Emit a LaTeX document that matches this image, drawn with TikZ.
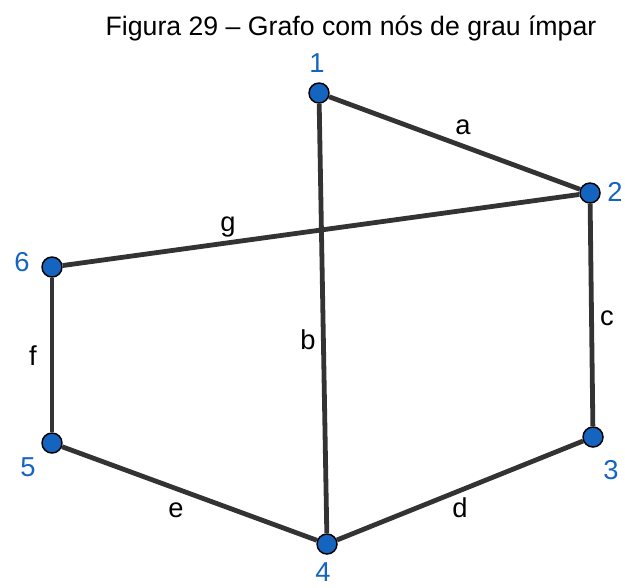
\documentclass[tikz,border=0pt]{standalone}
\usepackage{fontspec}
\setmainfont{Liberation Sans}
\usepackage{tikz}
\definecolor{nodeblue}{RGB}{21,101,192}
\definecolor{edgegray}{RGB}{51,51,51}
\tikzset{
  vertex/.style={circle, fill=nodeblue, draw=black, line width=1.1pt, minimum size=15pt, inner sep=0pt},
  edge/.style={edgegray, line width=3.6pt},
  vlabel/.style={text=nodeblue, font=\fontsize{20.5}{24}\selectfont, inner sep=0pt},
  elabel/.style={font=\fontsize{20.5}{24}\selectfont, inner sep=0pt}
}

\begin{document}
\begin{tikzpicture}[x=0.75pt, y=-0.75pt]
		\useasboundingbox (0,0) rectangle (625,587);
		\node[font=\fontsize{20}{24}\selectfont, anchor=base] (title) at (351,35) {Figura 29 – Grafo com nós de grau ímpar};
		\node[vertex] (v1) at (319,93) {};
		\node[vertex] (v2) at (590,193) {};
		\node[vertex] (v3) at (593,437) {};
		\node[vertex] (v4) at (327,544) {};
		\node[vertex] (v5) at (52,443) {};
		\node[vertex] (v6) at (52,267) {};
		\draw[edge] (v1) -- (v2);
		\draw[edge] (v1) -- (v4);
		\draw[edge] (v2) -- (v3);
		\draw[edge] (v3) -- (v4);
		\draw[edge] (v4) -- (v5);
		\draw[edge] (v5) -- (v6);
		\draw[edge] (v6) -- (v2);
		\node[vlabel] (l1) at (317,63) {1};
		\node[vlabel] (l2) at (615,192) {2};
		\node[vlabel] (l3) at (611,470) {3};
		\node[vlabel] (l4) at (323,572) {4};
		\node[vlabel] (l5) at (28,467) {5};
		\node[vlabel] (l6) at (22,262) {6};
		\node[elabel] (la) at (463,127) {a};
		\node[elabel] (lb) at (308,340) {b};
		\node[elabel] (lc) at (607,318) {c};
		\node[elabel] (ld) at (460,508) {d};
		\node[elabel] (le) at (176,510) {e};
		\node[elabel] (lf) at (33,356) {f};
		\node[elabel] (lg) at (228,227) {g};
	\end{tikzpicture}
\end{document}
